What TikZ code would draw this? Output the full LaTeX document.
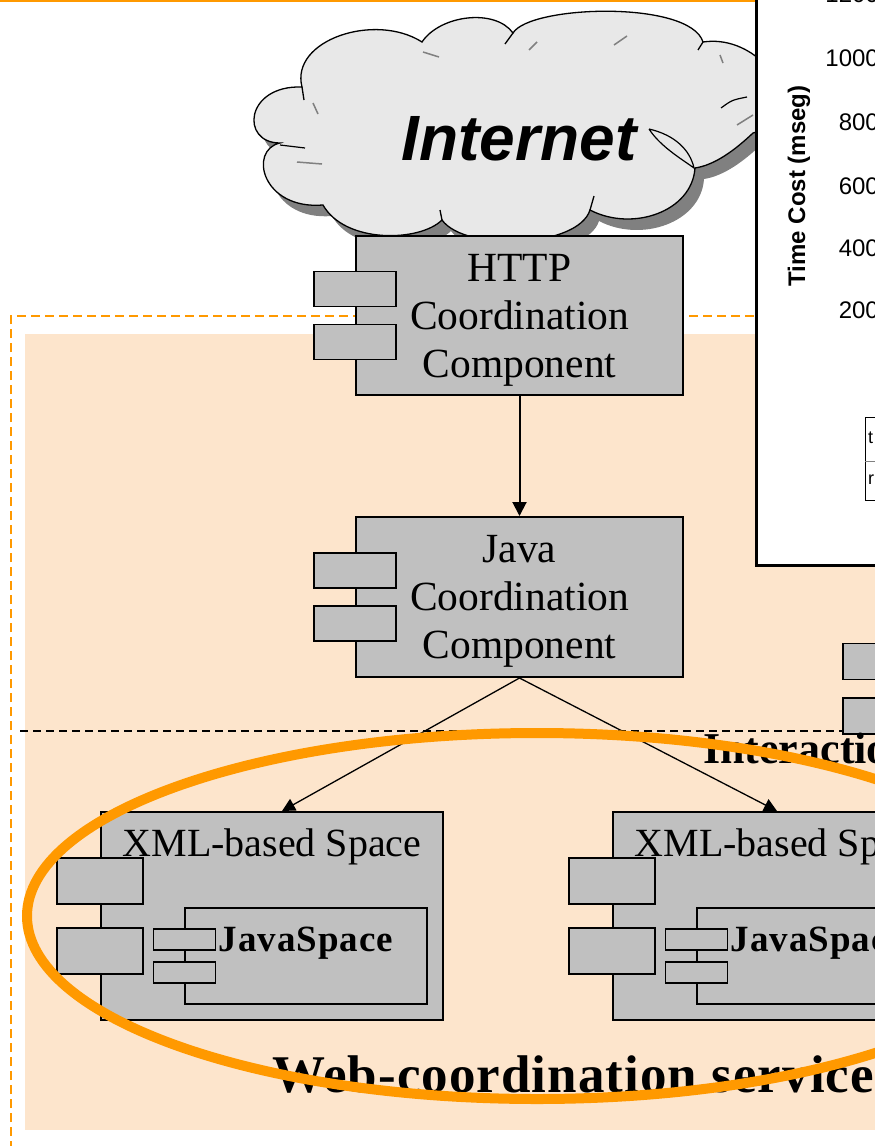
\documentclass[tikz,border=0pt]{standalone}
\usepackage{fontspec}
\setmainfont{Liberation Serif}
\setsansfont{Liberation Sans}
\usetikzlibrary{positioning,arrows.meta}

\definecolor{peach}{RGB}{253,229,204}
\definecolor{compgray}{RGB}{192,192,192}
\definecolor{orng}{RGB}{255,153,0}
\definecolor{cloudgray}{RGB}{232,232,232}
\definecolor{shadowgray}{RGB}{128,128,128}

\newcommand{\compfont}{\fontsize{41.5pt}{48pt}\selectfont}
\newcommand{\xmlfont}{\fontsize{40pt}{46pt}\selectfont}
\newcommand{\jsfont}{\bfseries\addfontfeature{LetterSpace=2.7}\fontsize{37pt}{42pt}\selectfont}
\newcommand{\tickfont}{\sffamily\fontsize{24pt}{28pt}\selectfont}
% outline of the internet cloud (pixel coordinates)
\newcommand{\cloudpath}{(302,87) .. controls (290,40) and (375,12) .. (422,42)
  .. controls (440,15) and (495,8) .. (513,33)
  .. controls (530,5) and (690,0) .. (703,42)
  .. controls (750,35) and (790,80) .. (790,120)
  .. controls (790,130) and (770,128) .. (753,133)
  .. controls (735,150) and (715,165) .. (695,168)
  .. controls (692,212) and (632,232) .. (590,210)
  .. controls (578,248) and (465,252) .. (442,220)
  .. controls (420,242) and (345,244) .. (323,205)
  .. controls (262,210) and (248,150) .. (280,143)
  .. controls (240,143) and (245,85) .. (302,87) -- cycle}

\tikzset{
  comp/.style={draw, fill=compgray, line width=2pt, inner sep=0pt},
  comptext/.style={font=\compfont, align=center, inner sep=0pt},
  port/.style={draw, fill=compgray, line width=1.5pt, inner sep=0pt, minimum width=82pt, minimum height=35pt},
  inport/.style={port, line width=1.2pt, minimum width=62pt, minimum height=21pt},
  arr/.style={-{Triangle[length=13pt,width=13pt]}, line width=1.3pt},
  title/.style={font=\bfseries\fontsize{#1}{#1}\selectfont, inner sep=0pt, anchor=base west},
  widetitle/.style={font=\bfseries\addfontfeature{LetterSpace=2}\fontsize{#1}{#1}\selectfont, inner sep=0pt, anchor=base west}
}

\begin{document}
\begin{tikzpicture}[x=1pt,y=-1pt]
  \useasboundingbox (0,0) rectangle (875,1146);
  \clip (0,0) rectangle (875,1146);
  % background area
  \fill[peach] (25,334) rectangle (880,1130);
  \draw[orng, line width=2.5pt, dash pattern=on 9pt off 5pt] (11,1150) -- (11,316) -- (760,316);
  \draw[orng, line width=2pt] (0,1) -- (760,1);
  % internet cloud
  \fill[shadowgray, shift={(9,11)}] \cloudpath;
  \draw[line width=1.3pt, fill=cloudgray] \cloudpath;
  \foreach \a/\b/\c/\d in {423/52/439/57, 529/50/537/42, 614/45/627/36, 313/103/318/114,
                           297/162/322/164, 720/55/723/63, 737/125/753/115}
    \draw[gray, line width=1.5pt] (\a,\b) -- (\c,\d);
  \foreach \a/\b/\c/\d in {302/87/304/100, 590/210/594/196, 513/33/505/44, 703/42/698/50, 442/220/440/210}
    \draw[line width=1.3pt] (\a,\b) -- (\c,\d);
  \draw[line width=1.2pt, fill=cloudgray] (649,129) .. controls (675,135) and (690,150) .. (694,168)
        .. controls (680,158) and (660,146) .. (649,129);
  \draw[line width=1.2pt] (280,145) -- (305,148);
  \draw[line width=1.2pt] (721,108) .. controls (732,100) .. (747,97);
  \node[font=\sffamily\bfseries\itshape\fontsize{64pt}{64pt}\selectfont, inner sep=0pt, anchor=base] (inet) at (519,160) {Internet};
  % coordination components
  \node[comp, minimum width=327pt, minimum height=159pt] (http) at (519.5,315.5) {};
  \node[comptext] (httpt) at ([yshift=-5pt]http.center) {HTTP\\Coordination\\Component};
  \node[port] (httpp1) at ([yshift=26.5pt]http.west) {};
  \node[port] (httpp2) at ([yshift=-26.5pt]http.west) {};
  \node[comp, minimum width=327pt, minimum height=160pt] (java) at (519.5,597) {};
  \node[comptext] (javat) at ([yshift=-4pt]java.center) {Java\\Coordination\\Component};
  \node[port] (javap1) at ([yshift=26.5pt]java.west) {};
  \node[port] (javap2) at ([yshift=-26.5pt]java.west) {};
  \draw[-{Triangle[length=14pt,width=14pt]}, line width=2pt] (http) -- (java);
  % partly hidden component on the right
  \node[port, minimum height=36pt] (xport1) at (884,661.5) {};
  \node[port, minimum height=36pt] (xport2) at (884,716) {};
  \draw[line width=1.5pt, dash pattern=on 8pt off 5pt] (20,731) -- (843,731);
  \node[title=44pt] (inter) at (703,763) {Interaction};
  % xml spaces
  \foreach \n/\cx in {L/272, R/784} {
    \node[comp, minimum width=342pt, minimum height=208pt] (xml\n) at (\cx,916) {};
    \node[port, minimum width=86pt, minimum height=46pt] (xml\n p1) at ([yshift=35pt]xml\n.west) {};
    \node[port, minimum width=86pt, minimum height=46pt] (xml\n p2) at ([yshift=-35pt]xml\n.west) {};
    \node[font=\xmlfont, inner sep=0pt, anchor=base] (xml\n t) at ([yshift=-45pt]xml\n.north) {XML-based Space};
    \node[comp, line width=1.5pt, minimum width=242pt, minimum height=96pt] (js\n) at ([xshift=34pt,yshift=-40pt]xml\n.center) {};
    \node[inport] (js\n p1) at ([yshift=16.5pt]js\n.west) {};
    \node[inport] (js\n p2) at ([yshift=-16.5pt]js\n.west) {};
    \node[font=\jsfont, inner sep=0pt, anchor=base] (js\n t) at ([yshift=5pt]js\n.center) {JavaSpace};
  }
  \draw[arr] (java.south) -- ([xshift=10pt]xmlL.north);
  \draw[arr] (java.south) -- ([xshift=-7pt]xmlR.north);
  \node[widetitle=53pt] (wcs) at (272,1092) {Web-coordination service};
  \draw[orng, line width=10pt] (537,916) ellipse [x radius=510pt, y radius=183pt];
  % chart on top
  \fill[white] (756,-10) rectangle (890,565);
  \draw[line width=3pt] (756,-10) -- (756,565) -- (890,565);
  \foreach \v/\yy in {1200/-6, 1000/58, 800/122, 600/186, 400/248, 200/310}
    \node[anchor=east, font=\tickfont, inner sep=0pt] at (879,\yy) {\v};
  \node[rotate=90, font=\sffamily\bfseries\fontsize{24pt}{28pt}\selectfont, inner sep=0pt] (ylab) at (799,186) {Time Cost (mseg)};
  \draw[line width=1pt] (865,417) rectangle (895,500);
  \draw[gray, line width=1pt] (865,461) -- (895,461);
  \node[anchor=west, font=\sffamily\fontsize{18pt}{20pt}\selectfont, inner sep=0pt] (legt) at (868,438) {t};
  \node[anchor=west, font=\sffamily\fontsize{18pt}{20pt}\selectfont, inner sep=0pt] (legr) at (868,480) {r};
\end{tikzpicture}
\end{document}
